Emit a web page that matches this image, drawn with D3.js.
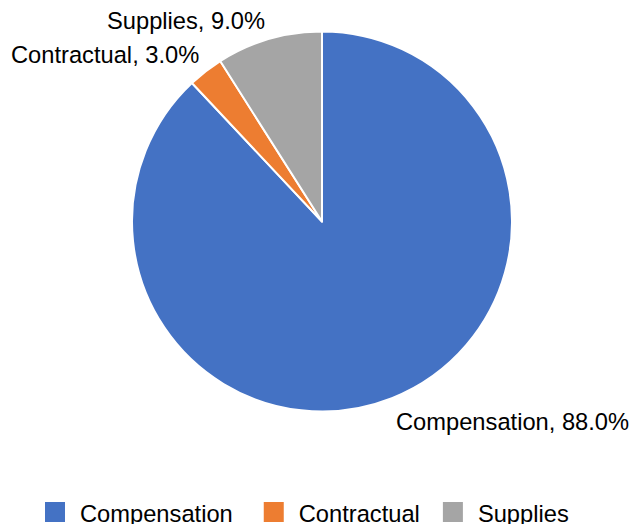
<!DOCTYPE html>
<html><head><meta charset="utf-8">
<script src="https://cdn.jsdelivr.net/npm/d3@7"></script>
<style>html,body{margin:0;padding:0;background:#fff;}svg{display:block;font-family:"Liberation Sans",Arial,sans-serif;}</style>
</head><body>
<svg id="c" width="637" height="524"></svg>
<script>
const categories = ["Compensation", "Contractual", "Supplies"];
const values = [88.0, 3.0, 9.0];
const colors = ["#4472C4", "#ED7D31", "#A5A5A5"];

const svg = d3.select("#c");
const cx = 322, cy = 221.5, r = 190;
const fs = "23.7px";
const g = svg.append("g").attr("transform", `translate(${cx},${cy})`);
const data = categories.map((c, i) => ({cat: c, val: values[i], col: colors[i]}));
const pie = d3.pie().value(d => d.val).sort(null);
const arc = d3.arc().innerRadius(0).outerRadius(r);
const arcs = pie(data);
g.selectAll("path").data(arcs).join("path")
  .attr("d", arc).attr("fill", d => d.data.col)
  .attr("stroke", "#fff").attr("stroke-width", 2).attr("stroke-linejoin", "round");

// data labels (positions from layout)
const labelPos = {
  "Compensation": {x: 396, y: 430},
  "Contractual": {x: 11, y: 63},
  "Supplies": {x: 107, y: 29}
};
svg.selectAll("text.lbl").data(arcs).join("text").attr("class", "lbl")
  .attr("x", d => labelPos[d.data.cat].x).attr("y", d => labelPos[d.data.cat].y)
  .attr("font-size", fs).attr("fill", "#000")
  .text(d => `${d.data.cat}, ${d3.format(".1f")(d.data.val)}%`);

// legend
const lg = svg.append("g");
const gaps = [31, 23, 0];
let x = 45;
data.forEach((d, i) => {
  lg.append("rect").attr("x", x).attr("y", 502).attr("width", 20).attr("height", 20).attr("fill", d.col);
  const t = lg.append("text").attr("x", x + 35).attr("y", 522).attr("font-size", fs).attr("fill", "#000").text(d.cat);
  x += 35 + t.node().getComputedTextLength() + gaps[i];
});
</script>
</body></html>
